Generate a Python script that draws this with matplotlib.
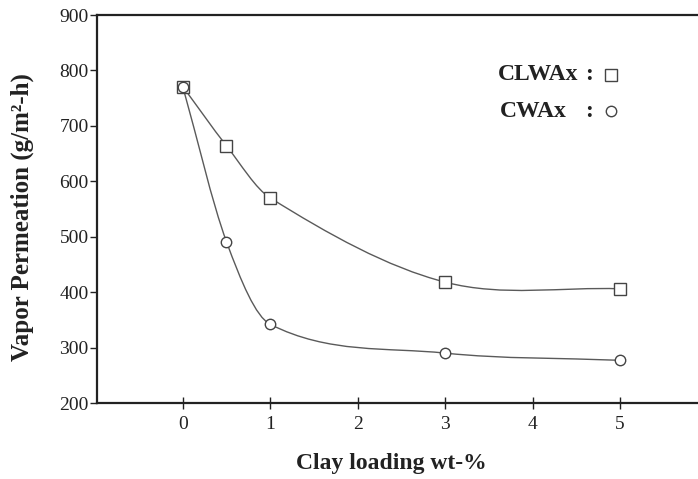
import matplotlib
matplotlib.use("Agg")
import matplotlib.pyplot as plt
import numpy as np
from matplotlib.path import Path
from matplotlib.patches import PathPatch

plt.rcParams['font.family'] = ['Liberation Serif', 'DejaVu Serif']

# data
clay = [0, 0.5, 1, 3, 5]
clwax = [771, 664, 570, 418, 406]
cwax = [771, 491, 342, 290, 277]

x_ticks = [0, 1, 2, 3, 4, 5]
y_ticks = [200, 300, 400, 500, 600, 700, 800, 900]


def smooth_path(xs, ys):
    # cubic bezier through the points (catmull-rom style tangents)
    xs = np.asarray(xs, float)
    ys = np.asarray(ys, float)
    n = len(xs)
    d = np.zeros(n)
    d[0] = (ys[1] - ys[0]) / (xs[1] - xs[0])
    d[-1] = (ys[-1] - ys[-2]) / (xs[-1] - xs[-2])
    for i in range(1, n - 1):
        d[i] = (ys[i + 1] - ys[i - 1]) / (xs[i + 1] - xs[i - 1])
    verts = [(xs[0], ys[0])]
    codes = [Path.MOVETO]
    for i in range(n - 1):
        h = xs[i + 1] - xs[i]
        verts += [(xs[i] + h / 3, ys[i] + d[i] * h / 3),
                  (xs[i + 1] - h / 3, ys[i + 1] - d[i + 1] * h / 3),
                  (xs[i + 1], ys[i + 1])]
        codes += [Path.CURVE4] * 3
    return Path(verts, codes)


fig = plt.figure(figsize=(6.98, 4.79), dpi=100)
ax = fig.add_axes([97 / 698, 76 / 479, 1 - 97 / 698, 388 / 479])

line_col = '#5a5a5a'
txt_col = '#222222'
for ys in (clwax, cwax):
    ax.add_patch(PathPatch(smooth_path(clay, ys), fill=False,
                           edgecolor=line_col, lw=1.0, zorder=2))

ax.plot(clay, clwax, ls='none', marker='s', ms=8, mfc='white',
        mec='#444444', mew=1.0, zorder=3)
ax.plot(clay, cwax, ls='none', marker='o', ms=7.5, mfc='white',
        mec='#444444', mew=1.0, zorder=3)

# legend written as text like the original
ax.text(3.6, 792, 'CLWAx', fontsize=17, fontweight='bold', va='center', color=txt_col)
ax.text(4.6, 792, ':', fontsize=17, fontweight='bold', va='center', color=txt_col)
ax.plot([4.9], [792], ls='none', marker='s', ms=8, mfc='white', mec='#444444', mew=1.0)
ax.text(3.63, 726, 'CWAx', fontsize=17, fontweight='bold', va='center', color=txt_col)
ax.text(4.6, 726, ':', fontsize=17, fontweight='bold', va='center', color=txt_col)
ax.plot([4.9], [726], ls='none', marker='o', ms=7.5, mfc='white', mec='#444444', mew=1.0)

ax.set_xlim(-0.98, 5.89)
ax.set_ylim(200, 900)
ax.set_xticks(x_ticks)
ax.set_yticks(y_ticks)
ax.tick_params(axis='y', direction='out', length=5, width=1.0, labelsize=14, pad=1, colors=txt_col)
ax.tick_params(axis='x', direction='inout', length=9, width=1.0, labelsize=14, pad=5, colors=txt_col)

for s in ('left', 'bottom', 'top'):
    ax.spines[s].set_linewidth(1.6)
    ax.spines[s].set_color(txt_col)
ax.spines['right'].set_visible(False)

fig.text(391 / 698, 1 - 463 / 479, 'Clay loading wt-%', fontsize=17, fontweight='bold',
         ha='center', va='center', color=txt_col)
fig.text(22 / 698, 1 - 217 / 479, 'Vapor Permeation (g/m\u00b2-h)', fontsize=18,
         fontweight='bold', ha='center', va='center', rotation=90, color=txt_col)

fig.savefig('out.png', dpi=100)
